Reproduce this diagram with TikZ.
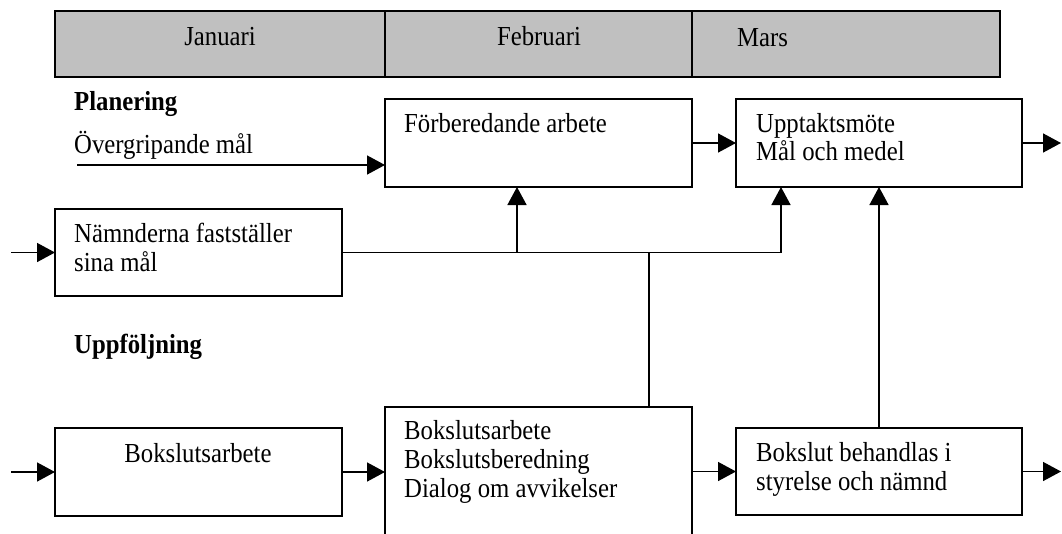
\documentclass[tikz,border=0pt]{standalone}
\usepackage{fontspec}
\setmainfont{Liberation Serif}[FakeStretch=0.9]
\usetikzlibrary{arrows.meta}
\definecolor{hdrgray}{HTML}{C0C0C0}
\begin{document}
\begin{tikzpicture}[x=1pt,y=-1pt,
  box/.style={draw,line width=1.6pt,inner sep=0pt,outer sep=0pt,anchor=north west},
  cell/.style={box,fill=hdrgray},
  txt/.style={inner sep=0pt,anchor=base west,font=\fontsize{27.5}{28.7}\selectfont},
  ctxt/.style={txt,anchor=base},
  btxt/.style={txt,font=\fontsize{27.5}{28.7}\selectfont\bfseries},
  conn/.style={line width=1.5pt},
  arr/.style={conn,-{Triangle[length=18pt,width=19pt]}}]
\clip (0,0) rectangle (1062,533);
\fill[white] (0,0) rectangle (1062,533);

% header
\node[cell,minimum width=330pt,minimum height=66pt] (jan) at (55,11) {};
\node[cell,minimum width=307pt,minimum height=66pt] (feb) at (385,11) {};
\node[cell,minimum width=308pt,minimum height=66pt] (mar) at (692,11) {};
\node[ctxt] (tjan) at (220,45) {Januari};
\node[ctxt] (tfeb) at (539,45) {Februari};
\node[txt] (tmar) at (737,46) {Mars};

% labels
\node[btxt] (plan) at (74,110) {Planering};
\node[txt] (overg) at (74,153) {Övergripande mål};
\node[btxt] (uppf) at (74,353) {Uppföljning};

% boxes
\node[box,minimum width=307pt,minimum height=88pt] (forb) at (385,99) {};
\node[box,minimum width=286pt,minimum height=88pt] (uppt) at (736,99) {};
\node[box,minimum width=287pt,minimum height=87pt] (namn) at (55,209) {};
\node[box,minimum width=287pt,minimum height=88pt] (boks1) at (55,428) {};
\node[box,minimum width=307pt,minimum height=150pt] (boks2) at (385,407) {};
\node[box,minimum width=286pt,minimum height=87pt] (bhand) at (736,428) {};

% box texts
\node[txt] (tforb) at (404,132) {Förberedande arbete};
\node[txt] (tuppt1) at (756,132) {Upptaktsmöte};
\node[txt] (tuppt2) at (756,160) {Mål och medel};
\node[txt] (tnamn1) at (74,242) {Nämnderna fastställer};
\node[txt] (tnamn2) at (74,271) {sina mål};
\node[ctxt] (tboks1) at (198,462) {Bokslutsarbete};
\node[txt] (tboks2a) at (404,439) {Bokslutsarbete};
\node[txt] (tboks2b) at (404,468) {Bokslutsberedning};
\node[txt] (tboks2c) at (404,497) {Dialog om avvikelser};
\node[txt] (tbhand1) at (756,461) {Bokslut behandlas i};
\node[txt] (tbhand2) at (756,490) {styrelse och nämnd};

% free ends and junctions
\coordinate (ovin) at (77,165);
\coordinate (uptout) at (1061,143);
\coordinate (namin) at (11,252.5);
\coordinate (j1) at (517,252.5);
\coordinate (j2) at (781,252.5);
\coordinate (j3) at (649,252.5);
\coordinate (c879) at (879,300);
\coordinate (bokin) at (11,472);
\coordinate (bhout) at (1061,471.5);

% connectors
\draw[arr] (ovin) -- (ovin -| forb.west);
\draw[arr] (forb.east) -- (uppt.west);
\draw[arr] (uppt.east) -- (uptout);
\draw[arr] (namin) -- (namn.west);
\draw[conn] (namn.east) -- (j2);
\draw[arr] (j1) -- (j1 |- forb.south);
\draw[arr] (j2) -- (j2 |- uppt.south);
\draw[conn] (j3) -- (j3 |- boks2.north);
\draw[arr] (c879 |- bhand.north) -- (c879 |- uppt.south);
\draw[arr] (bokin) -- (boks1.west);
\draw[arr] (boks1.east) -- (boks2.west |- boks1.east);
\draw[arr] (boks2.east |- bhand.west) -- (bhand.west);
\draw[arr] (bhand.east) -- (bhout);
\end{tikzpicture}
\end{document}
